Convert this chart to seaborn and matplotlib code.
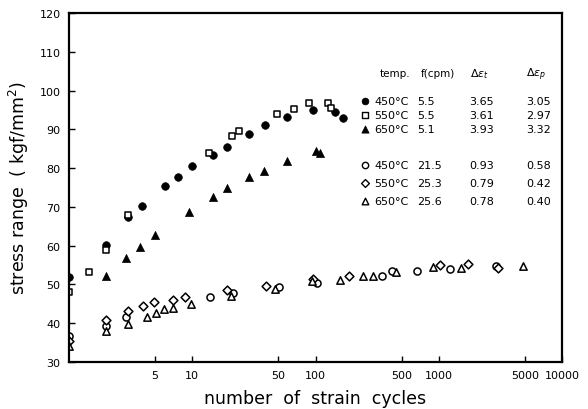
import numpy as np
import matplotlib
matplotlib.use('Agg')
import matplotlib.pyplot as plt
import seaborn as sns
from matplotlib.ticker import NullLocator, FixedLocator, FixedFormatter

# cycles / stress range (kgf/mm2)
# slow tests (f ~ 5 cpm)
n_450_slow = [1, 2, 3, 3.9, 6, 7.7, 10, 14.6, 19, 29, 39, 59, 96, 144, 168]
s_450_slow = [52.0, 60.3, 67.3, 70.3, 75.3, 77.8, 80.6, 83.4, 85.5, 88.8, 91.1, 93.3, 95.0, 94.5, 93.0]

n_550_slow = [1, 1.45, 2, 3, 13.6, 21, 24, 49, 67, 88, 126, 133]
s_550_slow = [48.0, 53.3, 58.9, 67.9, 83.8, 88.3, 89.5, 93.9, 95.2, 96.7, 96.7, 95.4]

n_650_slow = [2, 2.9, 3.8, 5, 9.4, 14.6, 19, 28.7, 38.4, 59, 101, 108]
s_650_slow = [52.1, 56.7, 59.7, 62.7, 68.6, 72.6, 74.8, 77.6, 79.3, 81.9, 84.3, 83.8]

# fast tests (f ~ 21-26 cpm)
n_450_fast = [1, 2, 2.9, 14, 21.4, 51, 103, 344, 414, 671, 1228, 2920]
s_450_fast = [36.8, 39.4, 41.6, 46.8, 47.8, 49.3, 50.5, 52.2, 53.5, 53.4, 54.0, 54.8]

n_550_fast = [1, 2, 3, 4, 4.85, 7, 8.8, 19.2, 39.6, 95, 187, 1018, 1726, 3050]
s_550_fast = [35.4, 40.9, 43.1, 44.4, 45.4, 46.1, 46.8, 48.6, 49.5, 51.5, 52.1, 55.1, 55.3, 54.3]

n_650_fast = [1, 2, 3, 4.3, 5.1, 5.9, 7, 9.7, 20.7, 47, 93, 158, 241, 294, 454, 900, 1523, 4860]
s_650_fast = [34.0, 37.9, 39.8, 41.7, 42.6, 43.7, 43.8, 45.0, 47.1, 48.8, 50.8, 51.1, 52.1, 52.1, 53.1, 54.4, 54.2, 54.8]

# legend table
temps = ['450°C', '550°C', '650°C', '450°C', '550°C', '650°C']
freqs = ['5.5', '5.5', '5.1', '21.5', '25.3', '25.6']
d_eps_t = ['3.65', '3.61', '3.93', '0.93', '0.79', '0.78']
d_eps_p = ['3.05', '2.97', '3.32', '0.58', '0.42', '0.40']

x_ticks = [5, 10, 50, 100, 500, 1000, 5000, 10000]
y_ticks = [30, 40, 50, 60, 70, 80, 90, 100, 110, 120]

sns.set_style('ticks')
plt.rcParams['font.family'] = ['DejaVu Sans']
for key in ['text.color', 'axes.labelcolor', 'xtick.color', 'ytick.color']:
    plt.rcParams[key] = 'black'

fig = plt.figure(figsize=(5.88, 4.10), dpi=100)
ax = fig.add_axes([69/588, 47/410, 493/588, 349/410])

series = [
    (n_450_slow, s_450_slow, 'o', True, 30),
    (n_550_slow, s_550_slow, 's', False, 22),
    (n_650_slow, s_650_slow, '^', True, 34),
    (n_450_fast, s_450_fast, 'o', False, 26),
    (n_550_fast, s_550_fast, 'D', False, 20),
    (n_650_fast, s_650_fast, '^', False, 28),
]

for n, s, mk, filled, size in series:
    if filled:
        sns.scatterplot(x=n, y=s, marker=mk, s=size, color='black',
                        edgecolor='black', linewidth=0.5, ax=ax)
    else:
        sns.scatterplot(x=n, y=s, marker=mk, s=size, facecolor='white',
                        edgecolor='black', linewidth=1.1, ax=ax)

ax.set_xscale('log')
ax.set_xlim(1, 10000)
ax.set_ylim(30, 120)
ax.xaxis.set_major_locator(FixedLocator(x_ticks))
ax.xaxis.set_major_formatter(FixedFormatter([str(t) for t in x_ticks]))
ax.xaxis.set_minor_locator(NullLocator())
ax.set_yticks(y_ticks)
ax.tick_params(direction='in', length=4, width=1, labelsize=8, colors='black', pad=6)

for side in ['left', 'bottom', 'right', 'top']:
    ax.spines[side].set_visible(True)
    ax.spines[side].set_color('black')
    ax.spines[side].set_linewidth(1.6)

ax.set_xlabel('number  of  strain  cycles', fontsize=12.5, labelpad=6)
ax.set_ylabel('stress range  ( kgf/mm$^2$)', fontsize=12.5, labelpad=6)

# legend table, placed in figure pixels
def fx(px):
    return px / 588

def fy(py):
    return 1 - py / 410

hdr_y = 77
fig.text(fx(380), fy(hdr_y), 'temp.', fontsize=7.5, va='baseline')
fig.text(fx(421), fy(hdr_y), 'f(cpm)', fontsize=7.5, va='baseline')
fig.text(fx(470), fy(hdr_y), r'$\Delta\varepsilon_t$', fontsize=8, va='baseline')
fig.text(fx(526), fy(hdr_y), r'$\Delta\varepsilon_p$', fontsize=8, va='baseline')

row_y = [102, 116, 130, 166, 184, 202]
for i, (n, s, mk, filled, size) in enumerate(series):
    y = fy(row_y[i])
    ax.scatter([fx(365)], [y], marker=mk, s=size * 0.8, transform=fig.transFigure,
               facecolor='black' if filled else 'white', edgecolor='black',
               linewidth=0.5 if filled else 1.0, clip_on=False, zorder=5)
    fig.text(fx(374), y, temps[i], fontsize=8, va='center')
    fig.text(fx(417), y, freqs[i], fontsize=8, va='center')
    fig.text(fx(469), y, d_eps_t[i], fontsize=8, va='center')
    fig.text(fx(526), y, d_eps_p[i], fontsize=8, va='center')

fig.savefig('out.png', dpi=100)
